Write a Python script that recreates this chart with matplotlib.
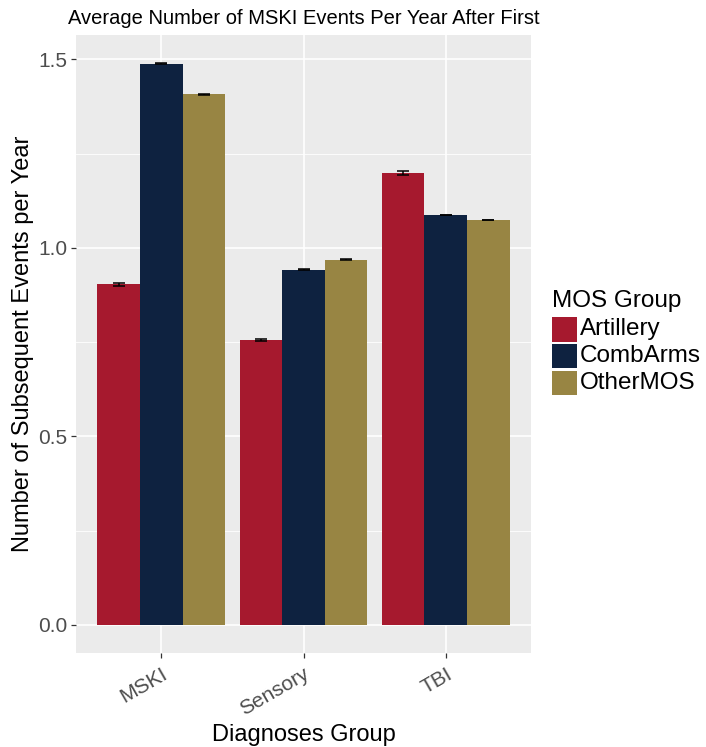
import matplotlib
matplotlib.use('Agg')
import matplotlib.pyplot as plt
from matplotlib.patches import Rectangle
from matplotlib.transforms import ScaledTranslation
import numpy as np

plt.rcParams['font.family'] = ['Liberation Sans', 'DejaVu Sans']

diagnoses = ['MSKI', 'Sensory', 'TBI']
mos_groups = ['Artillery', 'CombArms', 'OtherMOS']
colors = ['#A6192E', '#0E2240', '#988543']

# mean subsequent events per year, one list per MOS group (MSKI, Sensory, TBI)
artillery = [0.903, 0.756, 1.198]
combarms = [1.488, 0.942, 1.087]
othermos = [1.407, 0.969, 1.074]
# standard errors
artillery_se = [0.004, 0.002, 0.006]
combarms_se = [0.001, 0.001, 0.001]
othermos_se = [0.001, 0.001, 0.001]

means = [artillery, combarms, othermos]
errs = [artillery_se, combarms_se, othermos_se]

W, H = 706, 747
fig = plt.figure(figsize=(W / 100, H / 100), dpi=100)
# panel: x 76..531 px, y 35..653 px
ax = fig.add_axes([76 / W, 1 - 653 / H, 455 / W, 618 / H])
ax.set_facecolor('#EBEBEB')

x = np.arange(len(diagnoses)) + 1
w = 0.3
for i, (m, e) in enumerate(zip(means, errs)):
    pos = x + (i - 1) * w
    ax.bar(pos, m, width=w, color=colors[i], zorder=3)
    ax.errorbar(pos, m, yerr=e, fmt='none', ecolor='black', elinewidth=1.1,
                capsize=4.3, capthick=1.1, zorder=4)

ax.set_xlim(0.4, 3.6)
ax.set_ylim(-0.0745, 1.5645)
ax.set_xticks(x)
ax.set_xticklabels(diagnoses, rotation=30, ha='right', rotation_mode='anchor',
                   fontsize=15, color='#4D4D4D')
for lab in ax.get_xticklabels():
    lab.set_transform(lab.get_transform() + ScaledTranslation(0.04, 0, fig.dpi_scale_trans))
ax.set_yticks([0.0, 0.5, 1.0, 1.5])
ax.set_yticklabels(['0.0', '0.5', '1.0', '1.5'], fontsize=15, color='#4D4D4D')
ax.set_yticks([0.25, 0.75, 1.25], minor=True)
ax.tick_params(axis='both', which='major', length=3.3, width=0.9, color='#333333')
ax.tick_params(axis='x', which='major', pad=5)
ax.tick_params(axis='y', which='major', pad=2.8)
ax.tick_params(axis='y', which='minor', length=0)
ax.grid(True, which='major', color='white', linewidth=1.2, zorder=0)
ax.grid(True, which='minor', axis='y', color='white', linewidth=0.6, zorder=0)
ax.set_axisbelow(True)
for s in ax.spines.values():
    s.set_visible(False)

ax.set_xlabel('Diagnoses Group', fontsize=17, va='center')
ax.xaxis.set_label_coords(0.5, (653 - 735) / 618)
ax.set_ylabel('Number of Subsequent Events per Year', fontsize=17, va='center')
ax.yaxis.set_label_coords((23 - 76) / 455, 0.5)
fig.text(303.5 / W, 1 - 19 / H, 'Average Number of MSKI Events Per Year After First',
         fontsize=14.5, ha='center', va='center')

# legend
fig.text(552 / W, 1 - 301 / H, 'MOS Group', fontsize=17.5, ha='left', va='center')
for i, name in enumerate(mos_groups):
    yc = 329.5 + i * 26.7
    fig.patches.append(Rectangle((552.3 / W, 1 - (yc + 12.2) / H), 24.4 / W, 24.4 / H,
                                 transform=fig.transFigure, facecolor=colors[i],
                                 edgecolor='none'))
    fig.text(580 / W, 1 - yc / H, name, fontsize=17.5, ha='left', va='center')

fig.savefig('out.png', dpi=100)
